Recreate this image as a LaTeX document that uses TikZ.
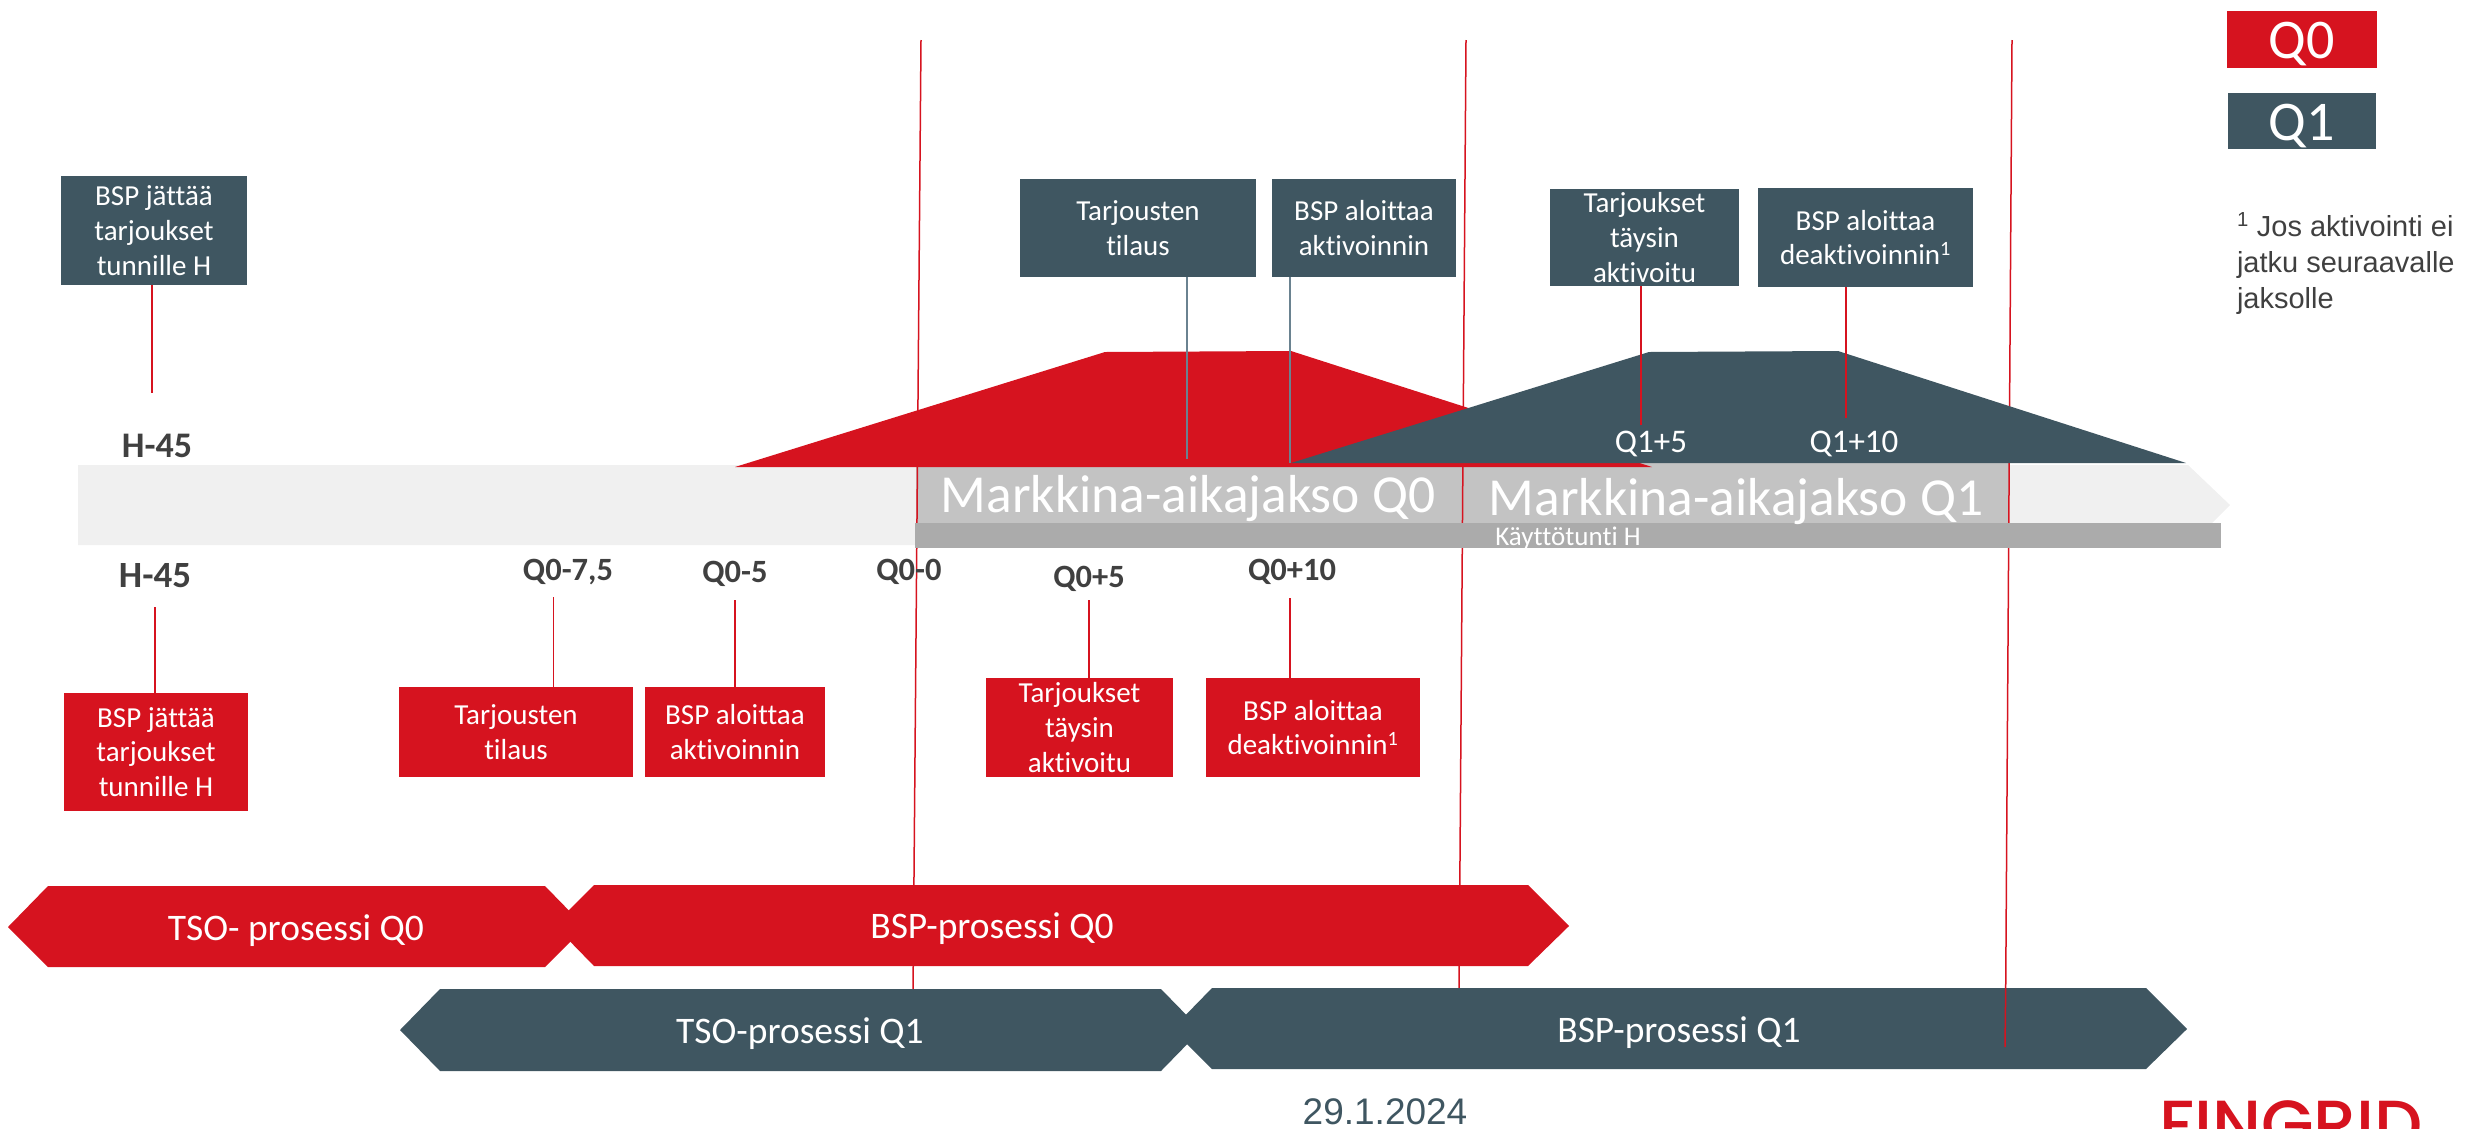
\documentclass[tikz,border=0pt]{standalone}
\usepackage{fontspec}
\setmainfont{Carlito}[Ligatures=NoCommon]
\newfontfamily\arialfont{Liberation Sans}
\newfontfamily\logofont{Poppins Medium}
\usetikzlibrary{positioning}
\definecolor{fgred}{HTML}{D6131F}
\definecolor{fgdark}{HTML}{3F5661}
\definecolor{fgslate}{HTML}{6A8290}
\definecolor{fgband}{HTML}{F0F0F0}
\definecolor{fgmarket}{HTML}{C3C3C3}
\definecolor{fghour}{HTML}{ABABAB}
\definecolor{fgtext}{HTML}{404040}
\newcommand{\fsize}[1]{\fontsize{#1}{1.2\dimexpr#1pt\relax}\selectfont}
\tikzstyle{recred} = [rectangle, fill=fgred, text=white, align=center, font=\fsize{29}]
\tikzstyle{recdark} = [rectangle, fill=fgdark, text=white, align=center, font=\fsize{29}]
\tikzstyle{legend} = [font=\fsize{56}, text height=39, text depth=0]
\tikzstyle{quarter} = [draw=fgred, line width=1.5pt]
\tikzstyle{stem} = [draw=fgred, line width=1.5pt]
\tikzstyle{stemslate} = [draw=fgslate, line width=1.5pt]
\tikzstyle{ticklabel} = [anchor=base, font=\fsize{32.5}\bfseries, text=fgtext]
\tikzstyle{ticklight} = [anchor=base, font=\fsize{33}, text=white]
\tikzstyle{market} = [text=white, font=\fsize{53.5}]
\tikzstyle{process} = [text=white, font=\fsize{37.5}]
\begin{document}
\begin{tikzpicture}[x=1pt, y=-1pt, inner sep=0, outer sep=0, node distance=12pt]
	\useasboundingbox (0,0) rectangle (2465,1128);
	% timeline
	\fill [fgband] (78,465) -- (2188,465) -- (2230,505) -- (2190,545) -- (78,545) -- cycle;
	\node (market_box) [fill=fgmarket, minimum width=1093, minimum height=60] at (1462.5,493) {};
	\coordinate (line_q0_top) at (921,40);
	\coordinate (line_q0_bottom) at (913,995);
	\coordinate (line_q1_top) at (1466,40);
	\coordinate (line_q1_bottom) at (1459,995);
	\coordinate (line_end_top) at (2012,40);
	\coordinate (line_end_join) at (2005.7,988);
	\coordinate (line_end_bottom) at (2005,1047);
	\draw [quarter] (line_q0_top) -- (line_q0_bottom);
	\draw [quarter] (line_q1_top) -- (line_q1_bottom);
	\draw [quarter] (line_end_top) -- (line_end_join);
	\node (hour_box) [fill=fghour, minimum width=1306, minimum height=25] at (1568,535.5) {};
	\node (hour_label) [text=white, font=\fsize{27}] at (1568,538) {Käyttötunti H};
	% ramps
	\fill [fgred] (735,467) -- (1105,352) -- (1291,351) -- (1652,467) -- cycle;
	\fill [fgdark] (1291,463) -- (1649,352) -- (1838,351) -- (2186,463) -- cycle;
	\node (market_q0) [market] at (1188,499) {Markkina-aikajakso Q0};
	\node (market_q1) [market] at (1736,501) {Markkina-aikajakso Q1};
	% legend
	\node (legend_q0) [recred, legend, minimum width=150, minimum height=57] at (2302,39) {Q0};
	\node (legend_q1) [recdark, legend, minimum width=148, minimum height=56, below=25pt of legend_q0] {Q1};
	\node (footnote) [anchor=north west, align=left, text=fgtext, font=\arialfont\fontsize{29}{36}\selectfont] at (2237,213) {\textsuperscript{1} Jos aktivointi ei\\jatku seuraavalle\\jaksolle};
	% boxes above
	\node (offer_h1) [recdark, minimum width=186, minimum height=109] at (154,230.5) {BSP jättää\\tarjoukset\\tunnille H};
	\coordinate (tick_h1) at (152,393);
	\draw [stem] (offer_h1.south -| tick_h1) -- (tick_h1);
	\node (h45_top) [ticklabel, font=\fsize{36}\bfseries] at (157,457) {H-45};
	\node (order_q1) [recdark, minimum width=236, minimum height=98] at (1138,228) {Tarjousten\\tilaus};
	\node (start_q1) [recdark, minimum width=184, minimum height=98, right=16pt of order_q1] {BSP aloittaa\\aktivoinnin};
	\coordinate (tick_order_q1) at (1187,459);
	\coordinate (tick_start_q1) at (1290,463);
	\draw [stemslate] (order_q1.south -| tick_order_q1) -- (tick_order_q1);
	\draw [stemslate] (start_q1.south -| tick_start_q1) -- (tick_start_q1);
	\node (full_q1) [recdark, minimum width=189, minimum height=97] at (1644.5,237.5) {Tarjoukset\\täysin\\aktivoitu};
	\node (stop_q1) [recdark, minimum width=215, minimum height=99, right=19pt of full_q1] {BSP aloittaa\\deaktivoinnin\textsuperscript{1}};
	\coordinate (tick_full_q1) at (1641,425);
	\coordinate (tick_stop_q1) at (1846,418);
	\draw [stem] (full_q1.south -| tick_full_q1) -- (tick_full_q1);
	\draw [stem] (stop_q1.south -| tick_stop_q1) -- (tick_stop_q1);
	\node (q1_5) [ticklight] at (1651,452) {Q1+5};
	\node (q1_10) [ticklight] at (1854,452) {Q1+10};
	% labels below
	\node (h45_bottom) [ticklabel, font=\fsize{37}\bfseries] at (155,587) {H-45};
	\node (q0_75) [ticklabel] at (568,580) {Q0-7,5};
	\node (q0_5) [ticklabel] at (735,582) {Q0-5};
	\node (q0_0) [ticklabel] at (909,580) {Q0-0};
	\node (q0_p5) [ticklabel] at (1089,587) {Q0+5};
	\node (q0_p10) [ticklabel] at (1292,580) {Q0+10};
	% boxes below
	\node (offer_h0) [recred, minimum width=184, minimum height=118] at (156,752) {BSP jättää\\tarjoukset\\tunnille H};
	\coordinate (tick_h0) at (155,607);
	\draw [stem] (tick_h0) -- (tick_h0 |- offer_h0.north);
	\node (order_q0) [recred, minimum width=234, minimum height=90] at (516,732) {Tarjousten\\tilaus};
	\node (start_q0) [recred, minimum width=180, minimum height=90, right=of order_q0] {BSP aloittaa\\aktivoinnin};
	\coordinate (tick_order_q0) at (553.5,597);
	\coordinate (tick_start_q0) at (735,600);
	\draw [stem] (tick_order_q0) -- (tick_order_q0 |- order_q0.north);
	\draw [stem] (tick_start_q0) -- (tick_start_q0 |- start_q0.north);
	\node (full_q0) [recred, minimum width=187, minimum height=99] at (1079.5,727.5) {Tarjoukset\\täysin\\aktivoitu};
	\node (stop_q0) [recred, minimum width=214, minimum height=99, right=33pt of full_q0] {BSP aloittaa\\deaktivoinnin\textsuperscript{1}};
	\coordinate (tick_full_q0) at (1089,600);
	\coordinate (tick_stop_q0) at (1290,598);
	\draw [stem] (tick_full_q0) -- (tick_full_q0 |- full_q0.north);
	\draw [stem] (tick_stop_q0) -- (tick_stop_q0 |- stop_q0.north);
	% processes
	\fill [fgred] (8,927) -- (48,886) -- (545,886) -- (585,927) -- (545,967) -- (48,967) -- cycle;
	\fill [fgred] (554,925) -- (594,885) -- (1528,885) -- (1569,926) -- (1528,966) -- (594,966) -- cycle;
	\fill [fgdark] (400,1030) -- (440,989) -- (1161,989) -- (1201,1030) -- (1161,1071) -- (440,1071) -- cycle;
	\fill [fgdark] (1172,1029) -- (1212,988) -- (2146,988) -- (2187,1029) -- (2146,1069) -- (1212,1069) -- cycle;
	\draw [quarter] (line_end_join) -- (line_end_bottom);
	\node (tso_q0) [process] at (296,931) {TSO- prosessi Q0};
	\node (bsp_q0) [process] at (992,929) {BSP-prosessi Q0};
	\node (tso_q1) [process] at (800,1034) {TSO-prosessi Q1};
	\node (bsp_q1) [process] at (1679,1033) {BSP-prosessi Q1};
	% footer
	\node (date) [text=fgdark, font=\arialfont\fsize{37}] at (1385,1112) {29.1.2024};
	\node (logo) [anchor=base west, text=fgred, font=\logofont\fsize{68}] at (2159,1148) {FINGRID};
\end{tikzpicture}
\end{document}
